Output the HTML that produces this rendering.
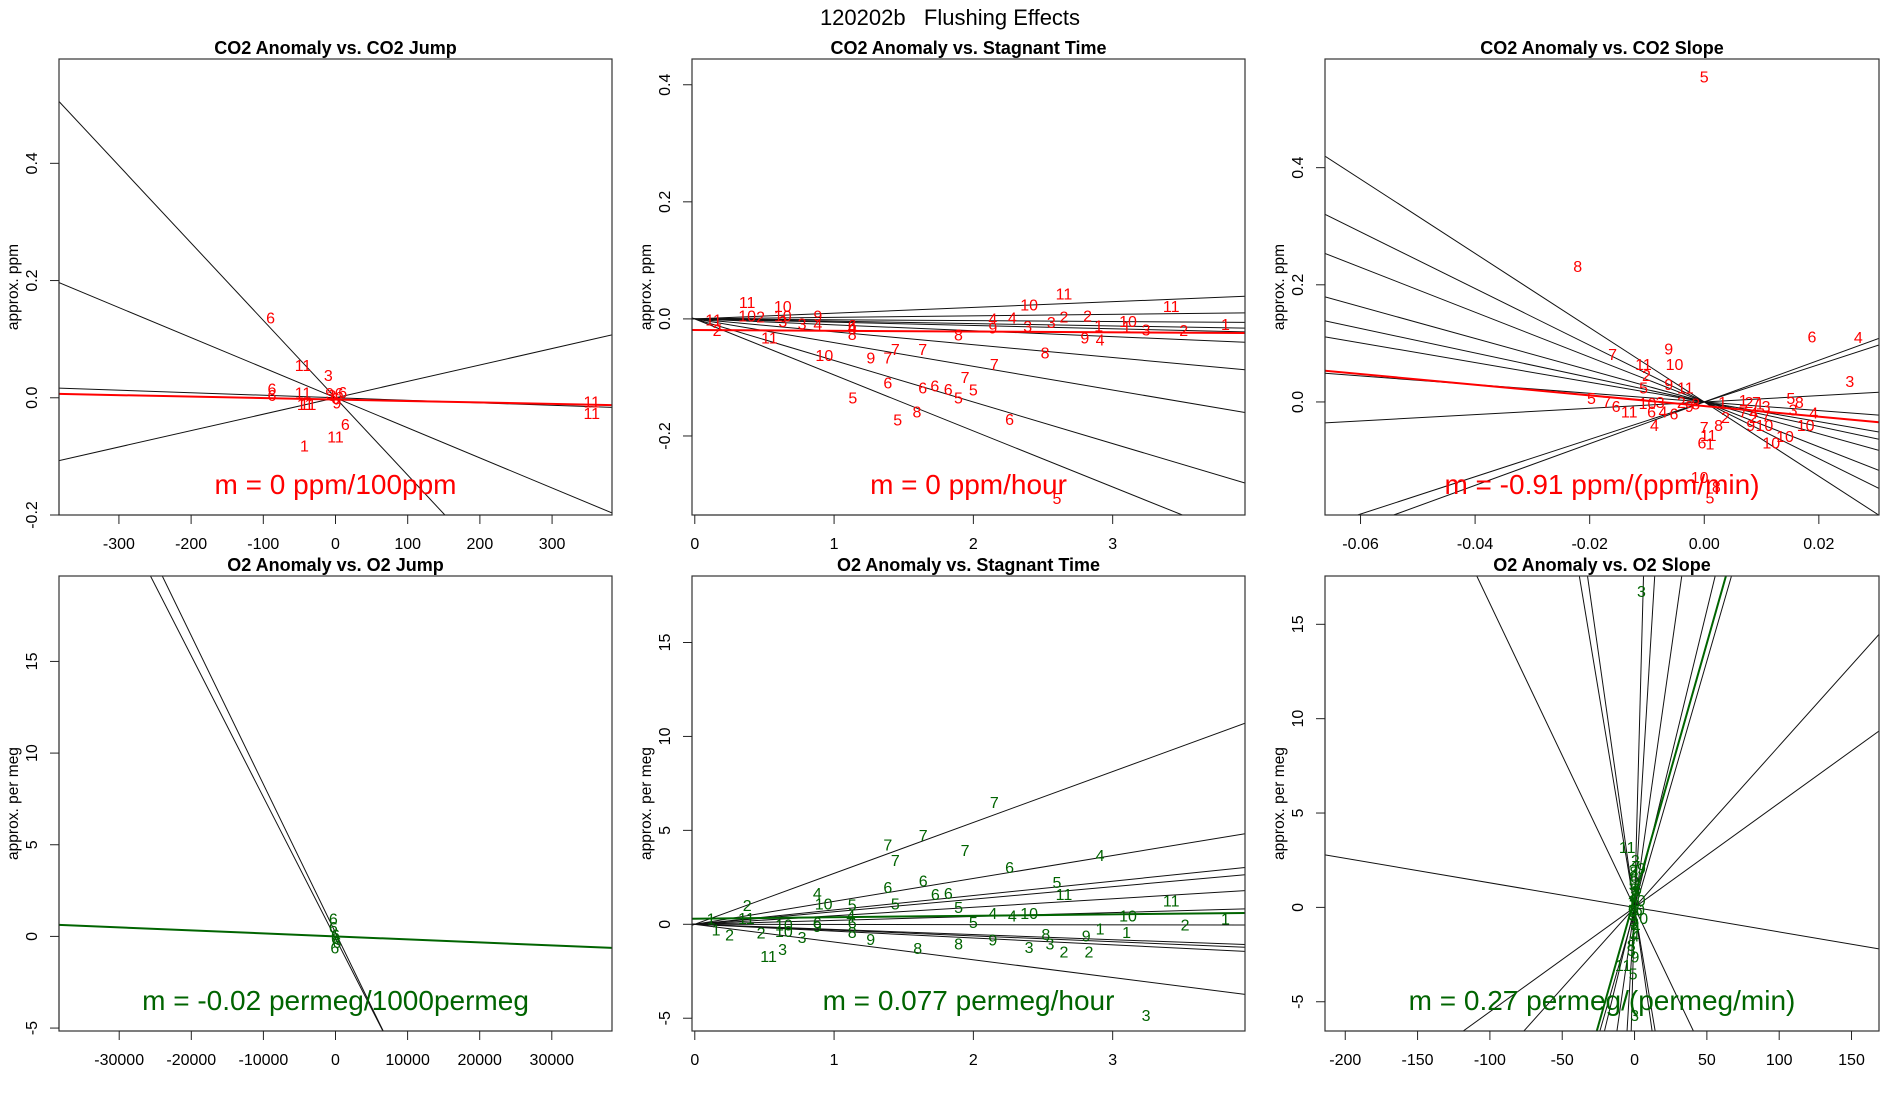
<!DOCTYPE html>
<html><head><meta charset="utf-8"><style>
html,body{margin:0;padding:0;background:#fff;width:1900px;height:1100px;overflow:hidden;}
svg{display:block;font-family:"Liberation Sans",Arial,sans-serif;}
</style></head><body>
<svg id="chart" width="1900" height="1100" viewBox="0 0 1900 1100" xmlns="http://www.w3.org/2000/svg" overflow="hidden">
<rect width="1900" height="1100" fill="#fff"/>
<text x="950" y="25" text-anchor="middle" font-size="22" style="white-space:pre">120202b   Flushing Effects</text>
</svg>
<script>
// ---------- Panel 1: CO2 Anomaly vs. CO2 Jump ----------
const p1XLim = [-383, 383];
const p1YLim = [-0.2, 0.578];
const p1XTicks = [-300, -200, -100, 0, 100, 200, 300];
const p1XTickLabels = ["-300", "-200", "-100", "0", "100", "200", "300"];
const p1YTicks = [-0.2, 0.0, 0.2, 0.4];
const p1YTickLabels = ["-0.2", "0.0", "0.2", "0.4"];
const p1Slopes = [-0.00132, -0.000513, 0.00028, -0.000043];
const p1Intercepts = [0, 0, 0, 0];
const p1Fit = [-0.000025, -0.003];
const p1PtX = [-90, -45, -10, -88, -88, -45, -42, -38, -5, -8, 0, 5, 10, 2, 13.7, 0, -43, 355, 355];
const p1PtY = [0.137, 0.056, 0.039, 0.016, 0.005, 0.009, -0.011, -0.011, 0.005, 0.008, 0.0, 0.008, 0.01, -0.008, -0.045, -0.066, -0.081, -0.006, -0.026];
const p1PtLab = ["6", "11", "3", "6", "6", "11", "11", "11", "3", "9", "6", "6", "6", "9", "6", "11", "1", "11", "11"];

// ---------- Panel 2: CO2 Anomaly vs. Stagnant Time ----------
const p2XLim = [-0.02, 3.95];
const p2YLim = [-0.335, 0.444];
const p2XTicks = [0, 1, 2, 3];
const p2XTickLabels = ["0", "1", "2", "3"];
const p2YTicks = [-0.2, 0.0, 0.2, 0.4];
const p2YTickLabels = ["-0.2", "0.0", "0.2", "0.4"];
const p2Slopes = [0.0098, 0.0026, -0.0015, -0.004, -0.0056, -0.0101, -0.022, -0.0405, -0.071, -0.0957];
const p2Intercepts = [0, 0, 0, 0, 0, 0, 0, 0, 0, 0];
const p2Fit = [-0.0013, -0.019];
const p2PtX = [0.376, 0.135, 0.16, 0.376, 0.472, 0.632, 0.632, 0.632, 0.77, 0.883, 0.883, 0.536, 1.13, 1.13, 1.13, 1.893, 0.93, 1.264, 1.386, 1.44, 1.636, 1.135, 1.386, 1.636, 1.723, 1.819, 1.94, 2.0, 1.893, 1.457, 1.595, 2.26, 2.15, 2.515, 2.14, 2.14, 2.28, 2.40, 2.65, 2.39, 2.56, 2.65, 2.82, 2.90, 2.80, 2.91, 3.11, 3.10, 3.24, 3.42, 3.51, 3.81, 2.60];
const p2PtY = [0.0285, -0.001, -0.019, 0.006, 0.004, 0.022, 0.006, -0.004, -0.0075, 0.006, -0.0085, -0.032, -0.01, -0.014, -0.026, -0.027, -0.062, -0.066, -0.066, -0.051, -0.051, -0.134, -0.109, -0.117, -0.114, -0.12, -0.099, -0.121, -0.134, -0.172, -0.158, -0.171, -0.077, -0.057, 0.001, -0.015, 0.002, 0.025, 0.043, -0.012, -0.005, 0.004, 0.006, -0.011, -0.032, -0.035, -0.0035, -0.013, -0.018, 0.022, -0.019, -0.009, -0.306];
const p2PtLab = ["11", "11", "2", "10", "2", "10", "10", "3", "3", "9", "4", "11", "6", "4", "8", "8", "10", "9", "7", "7", "7", "5", "6", "6", "6", "6", "7", "5", "5", "5", "8", "6", "7", "8", "4", "9", "4", "10", "11", "3", "3", "2", "2", "1", "9", "4", "10", "1", "3", "11", "2", "1", "5"];

// ---------- Panel 3: CO2 Anomaly vs. CO2 Slope ----------
const p3XLim = [-0.0662, 0.0305];
const p3YLim = [-0.193, 0.5855];
const p3XTicks = [-0.06, -0.04, -0.02, 0.0, 0.02];
const p3XTickLabels = ["-0.06", "-0.04", "-0.02", "0.00", "0.02"];
const p3YTicks = [0.0, 0.2, 0.4];
const p3YTickLabels = ["0.0", "0.2", "0.4"];
const p3Slopes = [-6.34, -4.84, -3.83, -2.71, -2.09, -1.68, -0.74, 0.54, 3.19, 3.56];
const p3Intercepts = [0, 0, 0, 0, 0, 0, 0, 0, 0, 0];
const p3Fit = [-0.91, -0.007];
const p3PtX = [0.0, -0.0221, 0.0188, 0.0269, 0.0254, -0.0062, -0.016, -0.0106, -0.0052, -0.0101, -0.0062, -0.0106, -0.0033, -0.0197, -0.017, -0.0154, -0.0131, -0.0099, -0.0077, -0.0092, -0.0072, -0.0053, -0.0087, -0.0026, -0.0015, -0.004, 0.0032, 0.0068, 0.0078, 0.0091, 0.0097, 0.0108, 0.0068, 0.0086, 0.0086, 0.0108, 0.0151, 0.0166, 0.0155, 0.0191, 0.0081, 0.0105, 0.0177, 0.0141, 0.0117, 0.0, 0.0025, 0.0037, 0.0007, -0.0004, 0.001, -0.0008, 0.0021, 0.001];
const p3PtY = [0.556, 0.232, 0.112, 0.111, 0.036, 0.091, 0.082, 0.065, 0.065, 0.046, 0.031, 0.025, 0.025, 0.0065, 0.001, -0.0066, -0.016, -0.0014, 0.0, -0.0164, -0.0164, -0.0197, -0.039, -0.0067, -0.003, 0.0, 0.0, 0.003, 0.0, 0.0, -0.003, -0.0067, -0.0164, -0.018, -0.026, -0.023, 0.0065, 0.0, -0.013, -0.018, -0.039, -0.039, -0.039, -0.058, -0.069, -0.043, -0.039, -0.026, -0.056, -0.069, -0.071, -0.128, -0.144, -0.163];
const p3PtLab = ["5", "8", "6", "4", "3", "9", "7", "11", "10", "2", "9", "5", "11", "5", "7", "6", "11", "10", "3", "6", "4", "6", "4", "9", "8", "2", "1", "1", "2", "7", "1", "3", "7", "4", "2", "7", "5", "8", "3", "4", "9", "10", "10", "10", "10", "7", "8", "2", "11", "6", "1", "10", "8", "5"];

// ---------- Panel 4: O2 Anomaly vs. O2 Jump ----------
const p4XLim = [-38350, 38350];
const p4YLim = [-5.16, 19.66];
const p4XTicks = [-30000, -20000, -10000, 0, 10000, 20000, 30000];
const p4XTickLabels = ["-30000", "-20000", "-10000", "0", "10000", "20000", "30000"];
const p4YTicks = [-5, 0, 5, 10, 15];
const p4YTickLabels = ["-5", "0", "5", "10", "15"];
const p4Slopes = [-0.00077, -0.00081];
const p4Intercepts = [-0.1, 0.2];
const p4Fit = [-0.0000164, 0.0];
const p4PtX = [-300, -300, 0, 200, -100, 0];
const p4PtY = [0.97, 0.5, 0.1, -0.3, -0.6, -0.1];
const p4PtLab = ["6", "6", "6", "6", "6", "6"];

// ---------- Panel 5: O2 Anomaly vs. Stagnant Time ----------
const p5XLim = [-0.02, 3.95];
const p5YLim = [-5.68, 18.54];
const p5XTicks = [0, 1, 2, 3];
const p5XTickLabels = ["0", "1", "2", "3"];
const p5YTicks = [-5, 0, 5, 10, 15];
const p5YTickLabels = ["-5", "0", "5", "10", "15"];
const p5Slopes = [2.71, 1.22, 0.765, 0.668, 0.453, 0.208, -0.01, -0.273, -0.309, -0.365, -0.944];
const p5Intercepts = [0, 0, 0, 0, 0, 0, 0, 0, 0, 0, 0];
const p5Fit = [0.077, 0.3];
const p5PtX = [2.15, 1.64, 1.386, 1.44, 1.94, 2.91, 2.26, 1.386, 1.64, 1.727, 1.82, 2.6, 2.65, 3.42, 0.88, 0.925, 0.376, 1.13, 1.44, 1.894, 1.12, 2.14, 2.28, 2.40, 3.11, 2.0, 3.52, 3.81, 0.117, 0.37, 0.64, 0.64, 0.476, 0.25, 0.153, 0.88, 0.88, 1.13, 1.13, 0.77, 0.63, 0.53, 1.263, 1.6, 1.894, 2.14, 2.4, 2.52, 2.55, 2.65, 2.83, 2.81, 2.91, 3.1, 3.24];
const p5PtY = [6.52, 4.75, 4.26, 3.42, 3.95, 3.69, 3.06, 1.98, 2.34, 1.6, 1.67, 2.26, 1.6, 1.26, 1.67, 1.1, 1.03, 1.06, 1.12, 0.93, 0.46, 0.59, 0.46, 0.59, 0.46, 0.12, 0.0, 0.3, 0.3, 0.34, 0.0, -0.36, -0.45, -0.55, -0.27, -0.09, 0.1, 0.1, -0.4, -0.68, -1.31, -1.69, -0.78, -1.27, -1.03, -0.8, -1.21, -0.51, -1.03, -1.44, -1.44, -0.6, -0.23, -0.42, -4.83];
const p5PtLab = ["7", "7", "7", "7", "7", "4", "6", "6", "6", "6", "6", "5", "11", "11", "4", "10", "2", "5", "5", "5", "4", "4", "4", "10", "10", "5", "2", "1", "1", "11", "10", "10", "2", "2", "1", "9", "6", "6", "8", "3", "3", "11", "9", "8", "8", "9", "3", "8", "3", "2", "2", "9", "1", "1", "3"];

// ---------- Panel 6: O2 Anomaly vs. O2 Slope ----------
const p6XLim = [-214, 169];
const p6YLim = [-6.55, 17.56];
const p6XTicks = [-200, -150, -100, -50, 0, 50, 100, 150];
const p6XTickLabels = ["-200", "-150", "-100", "-50", "0", "50", "100", "150"];
const p6YTicks = [-5, 0, 5, 10, 15];
const p6YTickLabels = ["-5", "0", "5", "10", "15"];
const p6Slopes = [-0.161, -0.46, -0.54, 2.83, 1.26, 0.538, 0.315, 0.0856, 0.0553, -0.013, 0.265];
const p6Intercepts = [0, 0, 0, 0, 0, 0, 0, 0, 0, 0, -0.2];
const p6Fit = [0.27, 0.5];
const p6PtX = [4.8, -5.1, 4.8, 1, -1, 0, -1, 1, -0.5, 0.5, 1, -1, 3.3, 0, -0.6, 0.4, -2.3, -2.2, -7.9, -1.0, 0, 2, -2, 1.5, -1.5, 0.5, -0.5, 2.5, 0, 1, -1, 0.3];
const p6PtY = [16.76, 3.19, 2.09, 2.2, 2.0, 1.6, 1.2, 0.9, 0.5, 0.2, -0.1, -0.4, -0.57, -0.8, -1.2, -1.5, -2.0, -2.27, -3.04, -3.51, -5.7, 1.0, 0.3, 0.4, -0.2, 2.5, 1.9, -0.1, 1.0, -1.0, -1.8, -2.6];
const p6PtLab = ["3", "11", "9", "7", "2", "6", "5", "8", "4", "1", "10", "3", "10", "2", "7", "4", "8", "3", "11", "5", "3", "6", "1", "10", "9", "2", "8", "6", "5", "4", "7", "9"];

const svg = document.getElementById('chart');
const NS = 'http://www.w3.org/2000/svg';
function mk(tag, attrs, parent) {
  const e = document.createElementNS(NS, tag);
  for (const k in attrs) e.setAttribute(k, attrs[k]);
  (parent || svg).appendChild(e);
  return e;
}

// clip the line y = a + b x to the data rectangle; returns [x0,x1] or null
function clipSeg(a, b, xlim, ylim) {
  let x0 = xlim[0], x1 = xlim[1];
  if (b !== 0) {
    let xa = (ylim[0] - a) / b, xb = (ylim[1] - a) / b;
    if (xa > xb) { const t = xa; xa = xb; xb = t; }
    x0 = Math.max(x0, xa); x1 = Math.min(x1, xb);
  } else if (a < ylim[0] || a > ylim[1]) return null;
  return x0 < x1 ? [x0, x1] : null;
}

function drawPanel(id, box, title, ylab, xlim, ylim, xt, xtl, yt, ytl, slopes, ints, fit, px, py, plab, col, mtext) {
  const g = mk('g', {});
  
  
  const sx = v => box.l + (v - xlim[0]) / (xlim[1] - xlim[0]) * box.w;
  const sy = v => box.t + box.h - (v - ylim[0]) / (ylim[1] - ylim[0]) * box.h;
  const cp = mk('clipPath', {id: id + '-clip'}, g);
  mk('rect', {x: box.l, y: box.t, width: box.w, height: box.h}, cp);
  const plot = mk('g', {'clip-path': 'url(#' + id + '-clip)'}, g);
  
  
  for (let i = 0; i < slopes.length; i++) {
    const seg = clipSeg(ints[i], slopes[i], xlim, ylim);
    if (!seg) continue;
    const ln = mk('line', {x1: sx(seg[0]), y1: sy(ints[i] + slopes[i] * seg[0]), x2: sx(seg[1]), y2: sy(ints[i] + slopes[i] * seg[1]), stroke: '#111', 'stroke-width': 1}, plot);
    
    
  }
  for (let i = 0; i < px.length; i++) {
    const t = mk('text', {x: sx(px[i]), y: sy(py[i]) + 6, 'text-anchor': 'middle', 'font-size': 16, fill: col}, plot);
    t.textContent = plab[i];
    
    
  }
  const fs = clipSeg(fit[1], fit[0], xlim, ylim);
  if (fs) {
    const fl = mk('line', {x1: sx(fs[0]), y1: sy(fit[1] + fit[0] * fs[0]), x2: sx(fs[1]), y2: sy(fit[1] + fit[0] * fs[1]), stroke: col, 'stroke-width': 2}, plot);
    
    
  }
  const mt = mk('text', {x: box.l + box.w / 2, y: box.t + box.h - 21, 'text-anchor': 'middle', 'font-size': 28, fill: col}, plot);
  mt.textContent = mtext;
  
  
  const fr = mk('rect', {x: box.l, y: box.t, width: box.w, height: box.h, fill: 'none', stroke: '#333', 'stroke-width': 1.2}, g);
  
  
  const xa = mk('g', {}, g);
  
  
  const yb = box.t + box.h;
  mk('line', {x1: sx(xt[0]), y1: yb, x2: sx(xt[xt.length - 1]), y2: yb, stroke: '#222', 'stroke-width': 1}, xa);
  for (let i = 0; i < xt.length; i++) {
    mk('line', {x1: sx(xt[i]), y1: yb, x2: sx(xt[i]), y2: yb + 9, stroke: '#222', 'stroke-width': 1}, xa);
    const t = mk('text', {x: sx(xt[i]), y: yb + 34, 'text-anchor': 'middle', 'font-size': 16}, xa);
    t.textContent = xtl[i];
    
    
  }
  const ya = mk('g', {}, g);
  
  
  mk('line', {x1: box.l, y1: sy(yt[0]), x2: box.l, y2: sy(yt[yt.length - 1]), stroke: '#222', 'stroke-width': 1}, ya);
  for (let i = 0; i < yt.length; i++) {
    const y = sy(yt[i]);
    mk('line', {x1: box.l - 9, y1: y, x2: box.l, y2: y, stroke: '#222', 'stroke-width': 1}, ya);
    const t = mk('text', {x: 0, y: 0, 'text-anchor': 'middle', 'font-size': 16, transform: 'translate(' + (box.l - 22) + ',' + y + ') rotate(-90)'}, ya);
    t.textContent = ytl[i];
    
    
  }
  const yl = mk('text', {x: 0, y: 0, 'text-anchor': 'middle', 'font-size': 15.5, transform: 'translate(' + (box.l - 41) + ',' + (box.t + box.h / 2) + ') rotate(-90)'}, g);
  yl.textContent = ylab;
  
  
  const tt = mk('text', {x: box.l + box.w / 2, y: box.t - 5, 'text-anchor': 'middle', 'font-size': 18, 'font-weight': 'bold'}, g);
  tt.textContent = title;
  
  
}

const RED = '#ff0000', GRN = '#006400';
drawPanel('co2-jump', {l: 59, t: 59, w: 553, h: 456}, 'CO2 Anomaly vs. CO2 Jump', 'approx. ppm', p1XLim, p1YLim, p1XTicks, p1XTickLabels, p1YTicks, p1YTickLabels, p1Slopes, p1Intercepts, p1Fit, p1PtX, p1PtY, p1PtLab, RED, 'm = 0 ppm/100ppm');
drawPanel('co2-stagnant', {l: 692, t: 59, w: 553, h: 456}, 'CO2 Anomaly vs. Stagnant Time', 'approx. ppm', p2XLim, p2YLim, p2XTicks, p2XTickLabels, p2YTicks, p2YTickLabels, p2Slopes, p2Intercepts, p2Fit, p2PtX, p2PtY, p2PtLab, RED, 'm = 0 ppm/hour');
drawPanel('co2-slope', {l: 1325, t: 59, w: 554, h: 456}, 'CO2 Anomaly vs. CO2 Slope', 'approx. ppm', p3XLim, p3YLim, p3XTicks, p3XTickLabels, p3YTicks, p3YTickLabels, p3Slopes, p3Intercepts, p3Fit, p3PtX, p3PtY, p3PtLab, RED, 'm = -0.91 ppm/(ppm/min)');
drawPanel('o2-jump', {l: 59, t: 576, w: 553, h: 455}, 'O2 Anomaly vs. O2 Jump', 'approx. per meg', p4XLim, p4YLim, p4XTicks, p4XTickLabels, p4YTicks, p4YTickLabels, p4Slopes, p4Intercepts, p4Fit, p4PtX, p4PtY, p4PtLab, GRN, 'm = -0.02 permeg/1000permeg');
drawPanel('o2-stagnant', {l: 692, t: 576, w: 553, h: 455}, 'O2 Anomaly vs. Stagnant Time', 'approx. per meg', p5XLim, p5YLim, p5XTicks, p5XTickLabels, p5YTicks, p5YTickLabels, p5Slopes, p5Intercepts, p5Fit, p5PtX, p5PtY, p5PtLab, GRN, 'm = 0.077 permeg/hour');
drawPanel('o2-slope', {l: 1325, t: 576, w: 554, h: 455}, 'O2 Anomaly vs. O2 Slope', 'approx. per meg', p6XLim, p6YLim, p6XTicks, p6XTickLabels, p6YTicks, p6YTickLabels, p6Slopes, p6Intercepts, p6Fit, p6PtX, p6PtY, p6PtLab, GRN, 'm = 0.27 permeg/(permeg/min)');
</script>
</body></html>
